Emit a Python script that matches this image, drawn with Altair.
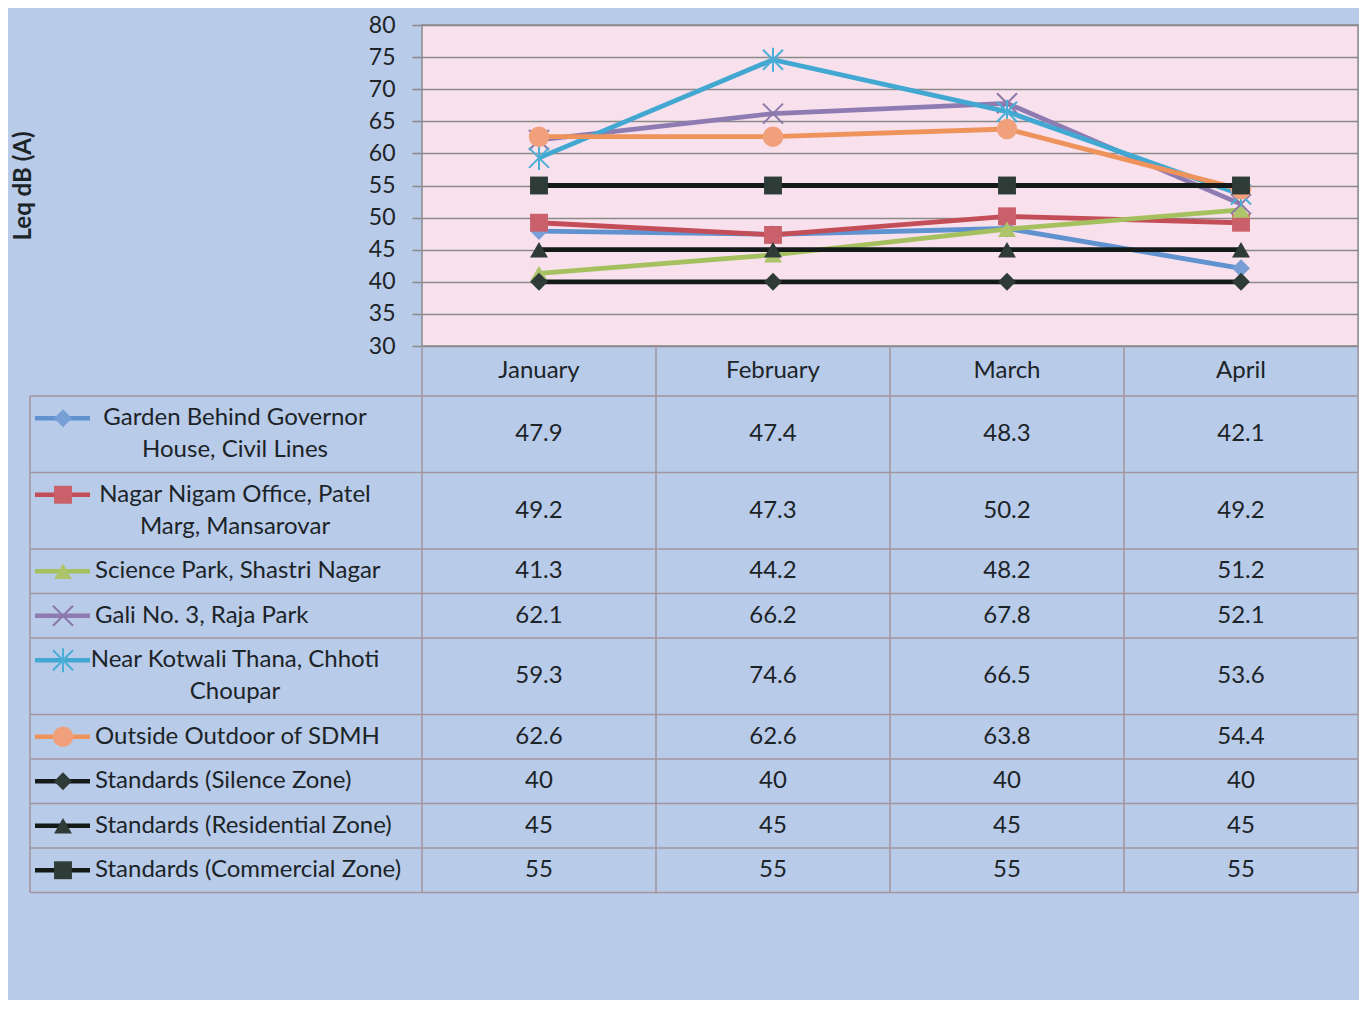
import altair as alt
import pandas as pd

# ---------------- data ----------------
months = ["January", "February", "March", "April"]
series_names = [
    "Garden Behind Governor House, Civil Lines",
    "Nagar Nigam Office, Patel Marg, Mansarovar",
    "Science Park, Shastri Nagar",
    "Gali No. 3, Raja Park",
    "Near Kotwali Thana, Chhoti Choupar",
    "Outside Outdoor of SDMH",
    "Standards (Silence Zone)",
    "Standards (Residential Zone)",
    "Standards (Commercial Zone)",
]
series_labels = [
    "Garden Behind Governor\nHouse, Civil Lines",
    "Nagar Nigam Office, Patel\nMarg, Mansarovar",
    "Science Park, Shastri Nagar",
    "Gali No. 3, Raja Park",
    "Near Kotwali Thana, Chhoti\nChoupar",
    "Outside Outdoor of SDMH",
    "Standards (Silence Zone)",
    "Standards (Residential Zone)",
    "Standards (Commercial Zone)",
]
garden = [47.9, 47.4, 48.3, 42.1]
nagar_nigam = [49.2, 47.3, 50.2, 49.2]
science_park = [41.3, 44.2, 48.2, 51.2]
gali_no3 = [62.1, 66.2, 67.8, 52.1]
kotwali = [59.3, 74.6, 66.5, 53.6]
sdmh = [62.6, 62.6, 63.8, 54.4]
std_silence = [40, 40, 40, 40]
std_residential = [45, 45, 45, 45]
std_commercial = [55, 55, 55, 55]
y_ticks = [30, 35, 40, 45, 50, 55, 60, 65, 70, 75, 80]

values = [garden, nagar_nigam, science_park, gali_no3, kotwali, sdmh,
          std_silence, std_residential, std_commercial]

# ---------------- styles ----------------
FONT = "Lato"
TEXT = "#1c2428"
GRID = "#8a8a8a"
TLINE = "#a3959c"
PINK = "#f8e0ec"
BG = "#b8cbe9"
TFS = 24

line_colors = ["#5f92cf", "#c44e58", "#a5c15f", "#8e7bb2", "#42a8d2", "#ef935c",
               "#141a18", "#141a18", "#141a18"]
marker_colors = ["#789fd5", "#c9606a", "#adc46a", "#8a78a8", "#4aaed6", "#f1a07c",
                 "#2e3b37", "#2e3b37", "#2e3b37"]
X_PATH = "M-1,-1L1,1M-1,1L1,-1"
AST_PATH = "M-1,-1L1,1M-1,1L1,-1M0,-1.2L0,1.2"
shapes = ["diamond", "square", "triangle-up", X_PATH, AST_PATH, "circle",
          "diamond", "triangle-up", "square"]
hollow = [False, False, False, True, True, False, False, False, False]
sizes = [320, 320, 320, 400, 400, 420, 320, 320, 320]

# ---------------- layout ----------------
LEG_W = 392.0
COL_W = 234.0
W = COL_W * len(months)
PLOT_H = 321.0
HEADER_H = 50.0
LINE_H = 32.0
ROW_PAD = 12.5
n_lines = [lab.count("\n") + 1 for lab in series_labels]
row_h = [ROW_PAD + LINE_H * n for n in n_lines]
TABLE_H = HEADER_H + sum(row_h)

X_FIRST = -0.5
X_LAST = len(months) - 0.5
X_LO = X_FIRST - LEG_W / COL_W

Y_MIN, Y_MAX = y_ticks[0], y_ticks[-1]
TB_K = (Y_MAX - Y_MIN) / PLOT_H


def tb(px):
    """table offset below the plot (px) expressed on the dB scale"""
    return Y_MIN - px * TB_K


xs = alt.Scale(domain=[X_FIRST, X_LAST], nice=False, zero=False)
ys = alt.Scale(domain=[Y_MIN, Y_MAX], nice=False, zero=False)

ax_db = alt.Axis(
    values=y_ticks, grid=True, gridColor=GRID, gridWidth=1.5,
    domain=False, ticks=True, tickSize=10, tickColor=GRID, tickWidth=1.5,
    labelFont=FONT, labelFontSize=23, labelColor=TEXT, labelPadding=17,
    title="Leq dB (A)", titleFont=FONT, titleFontSize=24, titleFontWeight="bold",
    titleColor=TEXT, titleAngle=270, titleX=-399, titleY=PLOT_H / 2,
    titleAlign="center", titleBaseline="middle",
)


def XQ(f):
    return alt.X(f, type="quantitative", scale=xs, axis=None)


def YQ(f):
    return alt.Y(f, type="quantitative", scale=ys, axis=ax_db, title="Leq dB (A)")


layers = []

# ---------------- series lines + markers ----------------
for i, name in enumerate(series_names):
    df = pd.DataFrame({"x": list(range(len(months))), "y": values[i], "month": months})
    ln = alt.Chart(df).mark_line(color=line_colors[i], strokeWidth=4.8).encode(
        x=XQ("x"), y=YQ("y"))
    if hollow[i]:
        pt = alt.Chart(df).mark_point(shape=shapes[i], filled=False, color=marker_colors[i],
                                      strokeWidth=2, size=sizes[i], opacity=1)
    else:
        pt = alt.Chart(df).mark_point(shape=shapes[i], filled=True, color=marker_colors[i],
                                      size=sizes[i], opacity=1)
    pt = pt.encode(x=XQ("x"), y=YQ("y"))
    layers += [ln, pt]

# ---------------- data table ----------------
tops = []
t = HEADER_H
for h in row_h:
    tops.append(t)
    t += h
centers = [tp + h / 2 for tp, h in zip(tops, row_h)]
first_line = [c - (n - 1) * LINE_H / 2 for c, n in zip(centers, n_lines)]

h_df = pd.DataFrame({"y": [tb(HEADER_H)] + [tb(tp + h) for tp, h in zip(tops, row_h)],
                     "x": X_LO, "x2": X_LAST})
layers.append(alt.Chart(h_df).mark_rule(color=TLINE, strokeWidth=1.5).encode(
    x=XQ("x"), x2="x2", y=YQ("y")))

v_x = [X_LO] + [X_FIRST + k for k in range(len(months) + 1)]
v_y = [tb(HEADER_H)] + [tb(0)] * (len(months) + 1)
v_df = pd.DataFrame({"x": v_x, "y": v_y, "y2": tb(TABLE_H)})
layers.append(alt.Chart(v_df).mark_rule(color=TLINE, strokeWidth=1.5).encode(
    x=XQ("x"), y=YQ("y"), y2="y2"))

head_df = pd.DataFrame({"x": list(range(len(months))), "y": tb(HEADER_H / 2), "t": months})
layers.append(alt.Chart(head_df).mark_text(font=FONT, fontSize=TFS, color=TEXT,
                                           align="center", baseline="middle").encode(
    x=XQ("x"), y=YQ("y"), text="t:N"))

cells = []
for i in range(len(series_names)):
    for j in range(len(months)):
        cells.append({"x": j, "y": tb(centers[i]), "t": f"{values[i][j]:g}"})
layers.append(alt.Chart(pd.DataFrame(cells)).mark_text(
    font=FONT, fontSize=TFS, color=TEXT, align="center", baseline="middle").encode(
    x=XQ("x"), y=YQ("y"), text="t:N"))

lab_df = pd.DataFrame({"x": X_LO, "y": [tb(v) for v in first_line],
                       "t": series_labels, "n": n_lines})
layers.append(alt.Chart(lab_df).transform_filter("datum.n == 1").mark_text(
    font=FONT, fontSize=TFS, color=TEXT, align="left", baseline="middle", dx=65).encode(
    x=XQ("x"), y=YQ("y"), text="t:N"))
layers.append(alt.Chart(lab_df).transform_filter("datum.n > 1").mark_text(
    font=FONT, fontSize=TFS, color=TEXT, align="center", baseline="middle", dx=205,
    lineBreak="\n", lineHeight=LINE_H).encode(
    x=XQ("x"), y=YQ("y"), text="t:N"))

for i in range(len(series_names)):
    sdf = pd.DataFrame({"x": [X_LO], "y": [tb(first_line[i])]})
    sl = alt.Chart(sdf).mark_rule(color=line_colors[i], strokeWidth=4.5,
                                  xOffset=5, x2Offset=60).encode(
        x=XQ("x"), x2="x", y=YQ("y"))
    if hollow[i]:
        sp = alt.Chart(sdf).mark_point(shape=shapes[i], filled=False, color=marker_colors[i],
                                       strokeWidth=2, size=sizes[i], opacity=1, xOffset=33)
    else:
        sp = alt.Chart(sdf).mark_point(shape=shapes[i], filled=True, color=marker_colors[i],
                                       size=sizes[i], opacity=1, xOffset=33)
    sp = sp.encode(x=XQ("x"), y=YQ("y"))
    layers += [sl, sp]

chart = alt.layer(*layers).properties(
    width=W, height=PLOT_H, background=BG,
    padding={"left": 3, "top": 6, "right": 0, "bottom": 106},
).configure_view(fill=PINK, stroke=GRID, strokeWidth=1.5)

chart.save("out.html", embed_options={"renderer": "svg", "actions": False})
